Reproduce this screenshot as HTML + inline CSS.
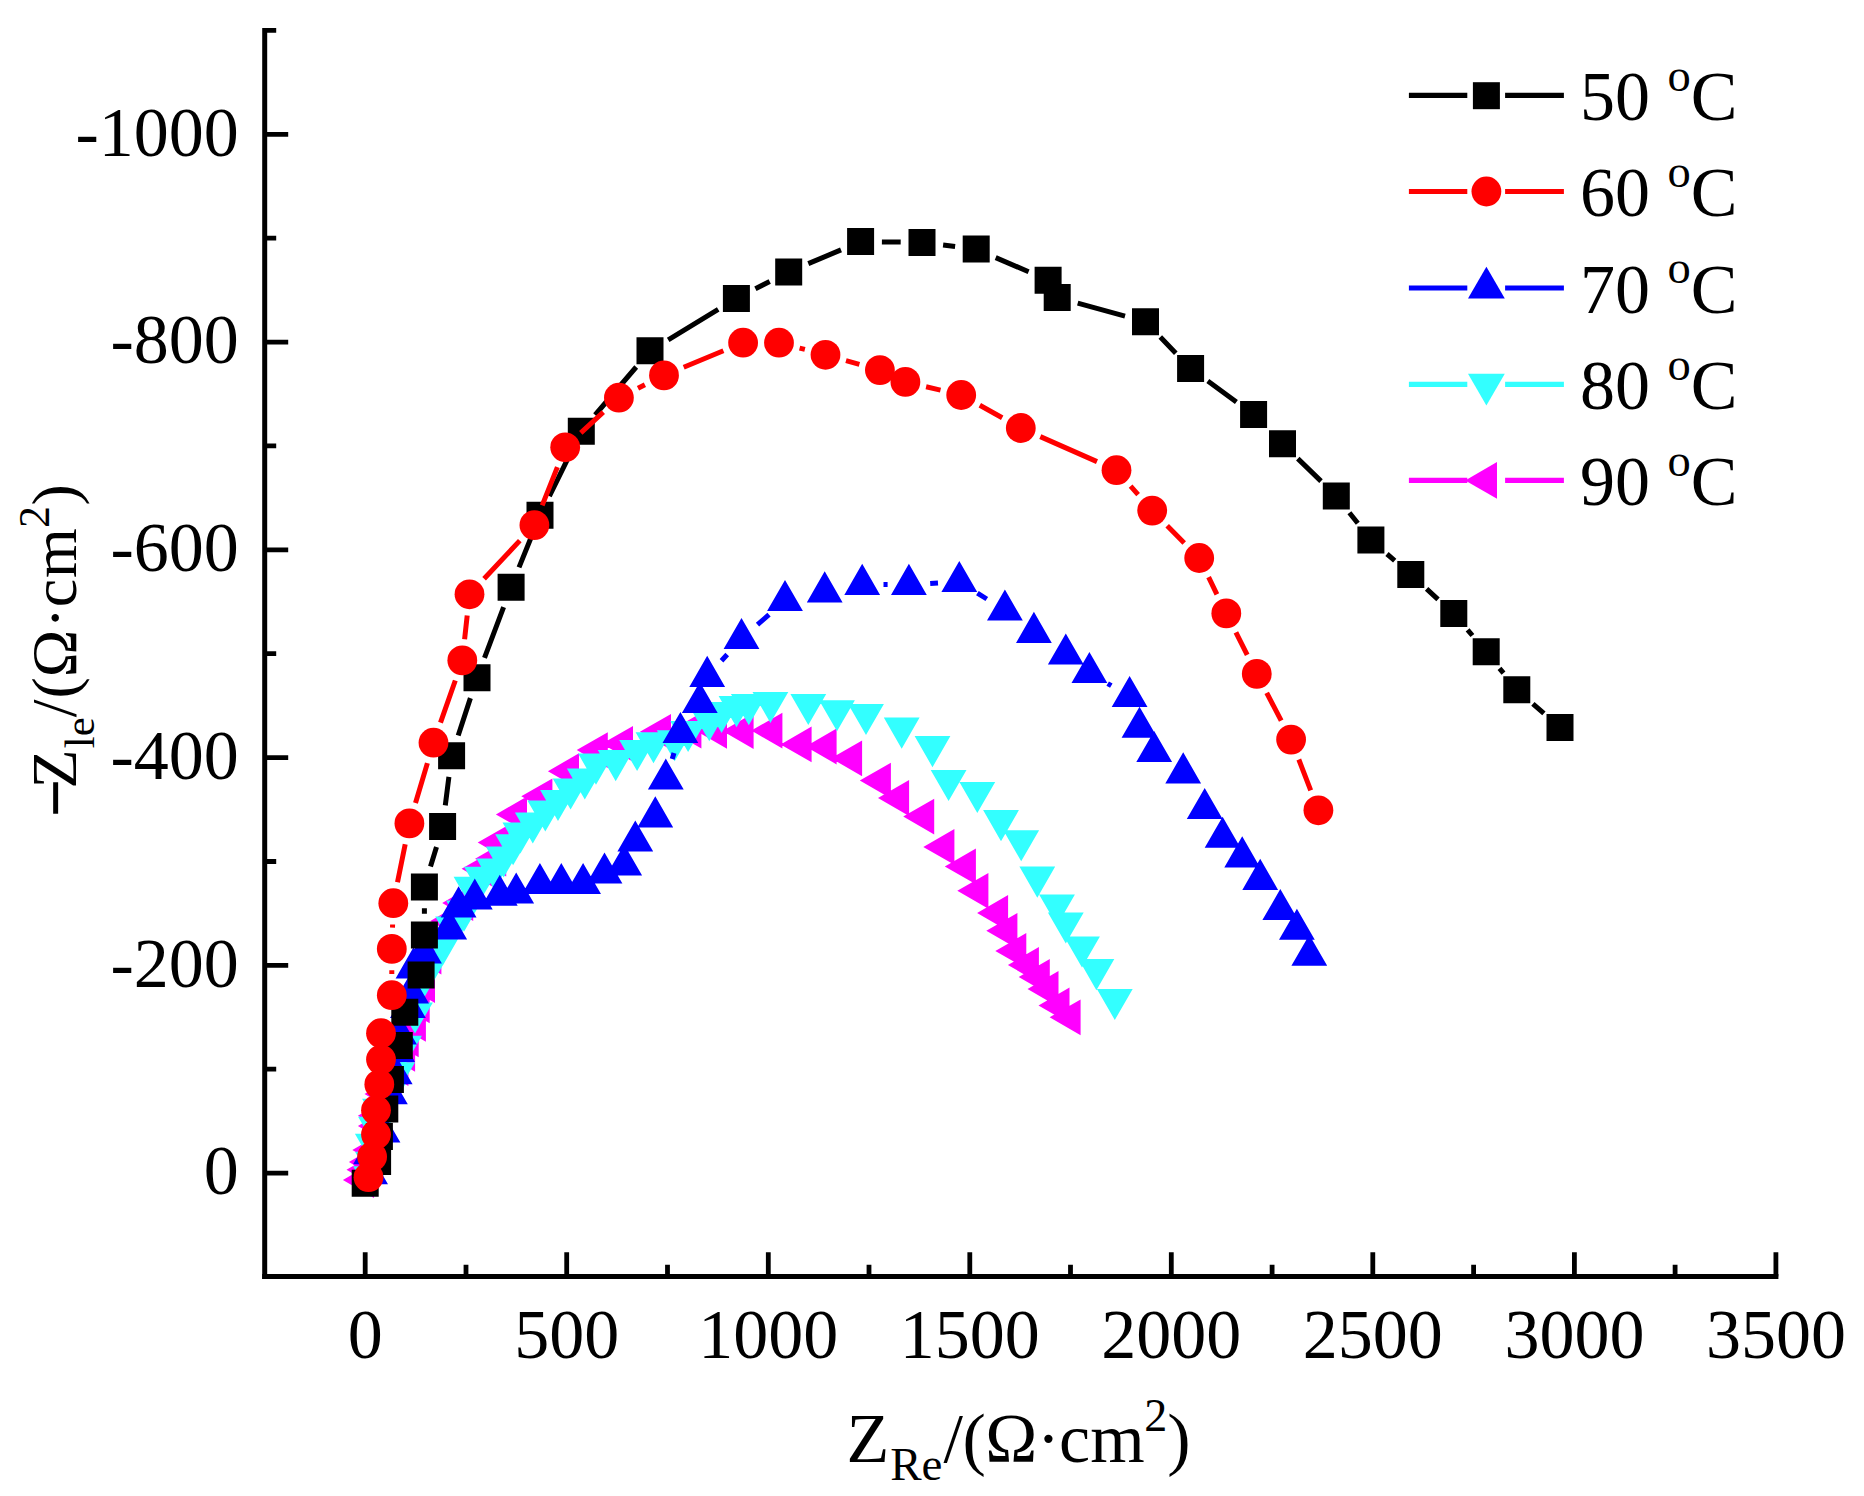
<!DOCTYPE html>
<html lang="en"><head><meta charset="utf-8"><title>Nyquist plot</title>
<style>
html,body{margin:0;padding:0;background:#fff}
body{width:1864px;height:1496px;overflow:hidden}
svg{display:block}
text{font-family:"Liberation Serif","Times New Roman",serif;fill:#000}
</style></head><body>
<svg width="1864" height="1496" viewBox="0 0 1864 1496">
<rect width="1864" height="1496" fill="#fff"/>
<g id="axes" stroke="#000" stroke-width="5" fill="none">
<path d="M264.7 28.1V1279"/>
<path d="M262.2 1276.5H1778.4"/>
<path d="M365.2 1276.5v-24.2M466 1276.5v-11.7M566.7 1276.5v-24.2M667.5 1276.5v-11.7M768.3 1276.5v-24.2M869 1276.5v-11.7M969.8 1276.5v-24.2M1070.5 1276.5v-11.7M1171.3 1276.5v-24.2M1272.1 1276.5v-11.7M1372.8 1276.5v-24.2M1473.6 1276.5v-11.7M1574.4 1276.5v-24.2M1675.1 1276.5v-11.7M1775.9 1276.5v-24.2M264.7 30.4h11.5M264.7 134.3h23.5M264.7 238.2h11.5M264.7 342.1h23.5M264.7 445.9h11.5M264.7 549.8h23.5M264.7 653.7h11.5M264.7 757.6h23.5M264.7 861.5h11.5M264.7 965.3h23.5M264.7 1069.2h11.5M264.7 1173.1h23.5" stroke-width="4.8"/>
</g>
<g id="data">

<path d="M1049.6 1017.3L1080.6 999.4L1080.6 1035.2ZM1038.5 1005.5L1069.5 987.6L1069.5 1023.4ZM1027.5 989L1058.5 971.1L1058.5 1006.9ZM1018.7 977L1049.8 959.1L1049.8 994.9ZM1007.9 965L1038.9 947.1L1038.9 982.9ZM995.3 951L1026.3 933.1L1026.3 968.9ZM986.3 930.8L1017.4 912.9L1017.4 948.7ZM977.1 913L1008.1 895.1L1008.1 930.9ZM957.3 890.8L988.4 872.9L988.4 908.7ZM944.8 866.4L975.9 848.5L975.9 884.3ZM923.3 846.9L954.4 829L954.4 864.8ZM903.2 816.6L934.2 798.7L934.2 834.5ZM878 798L909.1 780.1L909.1 815.9ZM859.8 780.6L890.9 762.7L890.9 798.5ZM831.1 758.3L862.1 740.4L862.1 776.2ZM805.6 746.5L836.6 728.6L836.6 764.4ZM780.6 744.4L811.6 726.5L811.6 762.3ZM751.3 730.6L782.4 712.7L782.4 748.5ZM722.5 731L753.6 713.1L753.6 748.9ZM695.9 730.8L727 712.9L727 748.7ZM670.3 730.7L701.4 712.8L701.4 748.6ZM639.9 731.8L671 713.9L671 749.7ZM601.9 743.8L633 725.9L633 761.7ZM576.7 750.1L607.8 732.2L607.8 768ZM547.9 771.2L579 753.3L579 789.1ZM521.3 796.3L552.4 778.4L552.4 814.2ZM495.9 814.4L527 796.5L527 832.3ZM477.7 842.6L508.8 824.7L508.8 860.5ZM475.1 858.7L506.2 840.8L506.2 876.6ZM461.6 868.8L492.7 850.9L492.7 886.7ZM442.2 903L473.2 885.1L473.2 920.9ZM430.3 921L461.4 903.1L461.4 938.9ZM410.3 956.6L441.4 938.7L441.4 974.5ZM403.9 985L435 967.1L435 1002.9ZM398.6 1005.3L429.7 987.4L429.7 1023.2ZM394.8 1023.8L425.9 1005.9L425.9 1041.7ZM387.6 1039.4L418.7 1021.5L418.7 1057.3ZM384 1053.8L415.1 1035.9L415.1 1071.7ZM377.3 1068L408.4 1050.1L408.4 1085.9ZM370.3 1082L401.4 1064.1L401.4 1099.9ZM364.5 1094L395.6 1076.1L395.6 1111.9ZM357.9 1115.7L389 1097.8L389 1133.6ZM357.9 1125.9L389 1108L389 1143.8ZM352.3 1150L383.4 1132.1L383.4 1167.9ZM348.9 1162L380 1144.1L380 1179.9ZM346.5 1169.8L377.6 1151.9L377.6 1187.7ZM342.9 1180L374 1162.1L374 1197.9Z" fill="#ff00ff"/>

<path d="M1114.8 1020L1096.9 988.9L1132.7 988.9ZM1096.4 990.2L1078.5 959.1L1114.3 959.1ZM1082 967.4L1064.1 936.4L1099.9 936.4ZM1065.8 943.5L1047.9 912.4L1083.7 912.4ZM1057 925.5L1039.1 894.4L1074.9 894.4ZM1037.3 897.7L1019.4 866.6L1055.2 866.6ZM1021.2 861.3L1003.3 830.2L1039.1 830.2ZM1001 841.2L983.1 810.1L1018.9 810.1ZM977.3 813.1L959.4 782L995.2 782ZM948.6 801L930.7 769.9L966.5 769.9ZM932.5 767.2L914.6 736.1L950.4 736.1ZM901.7 748.7L883.8 717.6L919.6 717.6ZM866 735.1L848.1 704L883.9 704ZM837 731.3L819.1 700.2L854.9 700.2ZM808.3 725.1L790.4 694L826.2 694ZM770.4 722.9L752.5 691.9L788.3 691.9ZM748.8 725.2L730.9 694.1L766.7 694.1ZM736.5 727.2L718.6 696.1L754.4 696.1ZM721.6 733.1L703.7 702L739.5 702ZM709.3 741.2L691.4 710.1L727.2 710.1ZM688.1 751.9L670.2 720.9L706 720.9ZM674.7 761.3L656.8 730.2L692.6 730.2ZM653.5 763.3L635.6 732.2L671.4 732.2ZM637.1 771.1L619.2 740L655 740ZM615.7 781.2L597.8 750.1L633.6 750.1ZM596 784.7L578.1 753.6L613.9 753.6ZM584.8 799.5L566.9 768.4L602.7 768.4ZM570.6 809.4L552.7 778.4L588.5 778.4ZM558 821.1L540.1 790L575.9 790ZM545.3 831.4L527.4 800.4L563.2 800.4ZM532.8 843.5L514.9 812.4L550.7 812.4ZM520.4 853.5L502.5 822.4L538.3 822.4ZM513.1 865.3L495.2 834.2L531 834.2ZM503.7 877.4L485.8 846.4L521.6 846.4ZM494.3 889.7L476.4 858.6L512.2 858.6ZM481.9 897.8L464 866.8L499.8 866.8ZM471.5 907.8L453.6 876.8L489.4 876.8ZM464 931.7L446.1 900.6L481.9 900.6ZM453.1 947.4L435.2 916.4L471 916.4ZM443 965.2L425.1 934.1L460.9 934.1ZM432.6 983L414.7 951.9L450.5 951.9ZM421.8 1001.7L403.9 970.6L439.7 970.6ZM415 1033.4L397.1 1002.4L432.9 1002.4ZM404 1066.7L386.1 1035.7L421.9 1035.7ZM397.2 1093.2L379.3 1062.2L415.1 1062.2ZM390 1110.7L372.1 1079.7L407.9 1079.7ZM380 1129.7L362.1 1098.7L397.9 1098.7ZM376 1147.7L358.1 1116.7L393.9 1116.7ZM372.8 1164.7L354.9 1133.7L390.7 1133.7ZM372.9 1182.7L355 1151.7L390.8 1151.7ZM371 1197.3L353.1 1166.2L388.9 1166.2Z" fill="#33ffff"/>
<path d="M1111.3 685.7L1107.7 683.6M986.8 599L977.4 593.1M938 582.9L930.2 583.4M887.6 584.5L883.5 584.5M769 614.6L757.5 624.7M727.2 654.5L721.5 660.7M674 753L672.2 759" stroke="#0000ff" stroke-width="5" fill="none"/>
<path d="M1309.3 934.7L1291.4 965.8L1327.2 965.8ZM1296.9 908.7L1279 939.8L1314.8 939.8ZM1280.3 889.1L1262.4 920.1L1298.2 920.1ZM1260.2 858.8L1242.3 889.9L1278.1 889.9ZM1242.2 836.3L1224.3 867.4L1260.1 867.4ZM1222.6 816.7L1204.7 847.8L1240.5 847.8ZM1204.7 788L1186.8 819.1L1222.6 819.1ZM1183.2 752.3L1165.3 783.4L1201.1 783.4ZM1154.2 730.9L1136.3 762L1172.1 762ZM1139.5 706.7L1121.6 737.8L1157.4 737.8ZM1129.6 675.9L1111.7 707L1147.5 707ZM1089.4 652L1071.5 683.1L1107.3 683.1ZM1065.8 633.4L1047.9 664.5L1083.7 664.5ZM1033.9 611.8L1016 642.9L1051.8 642.9ZM1004.9 589.6L987 620.6L1022.8 620.6ZM959.3 561.1L941.4 592.1L977.2 592.1ZM908.9 563.8L891 594.9L926.8 594.9ZM862.2 563.8L844.3 594.9L880.1 594.9ZM824.7 571.3L806.8 602.4L842.6 602.4ZM785 579.9L767.1 611L802.9 611ZM741.5 618L723.6 649.1L759.4 649.1ZM707.2 655.8L689.3 686.9L725.1 686.9ZM699.8 682L681.9 713.1L717.7 713.1ZM680.4 712L662.5 743.1L698.3 743.1ZM665.8 758.6L647.9 789.6L683.7 789.6ZM655.3 796.3L637.4 827.4L673.2 827.4ZM635.3 820.4L617.4 851.5L653.2 851.5ZM624.2 844.4L606.3 875.5L642.1 875.5ZM604.5 852.6L586.6 883.6L622.4 883.6ZM583.1 862.9L565.2 894L601 894ZM561.3 862.9L543.4 894L579.2 894ZM539.9 862.9L522 894L557.8 894ZM516.2 872.5L498.3 903.6L534.1 903.6ZM499.8 874.7L481.9 905.8L517.7 905.8ZM474.8 878.6L456.9 909.6L492.7 909.6ZM458.6 886.3L440.7 917.4L476.5 917.4ZM449.2 908.4L431.3 939.5L467.1 939.5ZM424 932.6L406.1 963.6L441.9 963.6ZM413.5 947.3L395.6 978.4L431.4 978.4ZM411.1 972.3L393.2 1003.4L429 1003.4ZM407.9 986.8L390 1017.9L425.8 1017.9ZM399 1013.6L381.1 1044.6L416.9 1044.6ZM397.1 1031.1L379.2 1062.1L415 1062.1ZM394.7 1053.3L376.8 1084.3L412.6 1084.3ZM389.9 1073.2L372 1104.2L407.8 1104.2ZM382.5 1111.5L364.6 1142.5L400.4 1142.5ZM371 1133.3L353.1 1164.3L388.9 1164.3ZM370.1 1153.2L352.2 1184.2L388 1184.2Z" fill="#0000ff"/>
<path d="M424.4 913.7L424.4 908.3M430.5 866.6L436.5 846.9M445.3 805.4L448.9 776.9M458.2 735.5L470.4 698.1M484.5 657.9L503.6 607.1M519 567.4L532.1 535M549.4 496.1L571.9 450.3M595.1 415L636.2 367M668.2 339.8L718.2 309.4M755.4 288.8L769.7 281.5M808.3 263.6L841 249.9M881.9 241.9L900.7 242.1M943.1 245L955.1 246.5M995.7 257.6L1028.6 271.7M1077.7 303.1L1125 316.1M1160.3 337.1L1175.8 353.2M1207.8 381.1L1236.4 402M1297.8 458.6L1321 481.1M1349.4 512.7L1357.8 523.3M1387 554L1394.7 560.6M1426.6 588.8L1438 599.3M1467.6 629.8L1472.4 635.5M1499.5 668.3L1503.5 673.2M1532.9 703.8L1543.9 713.4" stroke="#000000" stroke-width="5" fill="none"/>
<path d="M351.7 1169.8h27v27h-27ZM364.1 1148h27v27h-27ZM365.9 1122.9h27v27h-27ZM371.3 1095.5h27v27h-27ZM376.9 1066.1h27v27h-27ZM385.8 1031.9h27v27h-27ZM391.3 998.8h27v27h-27ZM407.6 961.5h27v27h-27ZM410.9 921.5h27v27h-27ZM410.9 873.5h27v27h-27ZM429.1 813h27v27h-27ZM438.1 742.3h27v27h-27ZM463.5 664.3h27v27h-27ZM497.6 573.7h27v27h-27ZM526.5 501.7h27v27h-27ZM567.8 417.7h27v27h-27ZM636.5 337.3h27v27h-27ZM722.9 284.9h27v27h-27ZM775.2 258.4h27v27h-27ZM847.1 228.1h27v27h-27ZM908.5 228.9h27v27h-27ZM962.7 235.6h27v27h-27ZM1034.6 266.7h27v27h-27ZM1043.7 283.9h27v27h-27ZM1132 308.3h27v27h-27ZM1177.1 355h27v27h-27ZM1240.1 401.1h27v27h-27ZM1269 430.3h27v27h-27ZM1322.8 482.4h27v27h-27ZM1357.4 526.6h27v27h-27ZM1397.3 561h27v27h-27ZM1440.3 600.1h27v27h-27ZM1472.7 638.2h27v27h-27ZM1503.3 676.3h27v27h-27ZM1546.5 713.9h27v27h-27Z" fill="#000000"/>
<path d="M391.8 973.9L391.8 970.2M392.5 927.6L392.6 924.5M397.5 882.3L405.2 844.3M415.5 803L427.4 763.1M440.5 722.6L455.3 680.5M464.6 639.2L467.2 615.5M484.1 578.8L519.8 540.6M542.2 505.3L557.4 467.1M580.8 432.8L603.3 412.2M638 388.3L644.9 384.8M683.7 367.3L723.4 350.8M799.6 348.1L804.9 349.4M846 360.6L859.4 364.3M926.1 386.8L940.5 390.1M979.8 405.3L1002.2 417.7M1040.3 436.6L1097 461.6M1130.6 486.2L1138.1 494.6M1167.2 525.7L1184.2 542.9M1208.6 577.1L1216.9 594.3M1235.9 632.4L1247.2 654.9M1266.7 692.8L1281.2 720.7M1298.8 759.5L1310.7 790.4" stroke="#ff0000" stroke-width="5" fill="none"/>
<g fill="#ff0000"><circle cx="368.5" cy="1177.2" r="14.9"/><circle cx="372.1" cy="1156.7" r="14.9"/><circle cx="376" cy="1134.5" r="14.9"/><circle cx="376" cy="1110.2" r="14.9"/><circle cx="379.3" cy="1084.4" r="14.9"/><circle cx="381" cy="1059.6" r="14.9"/><circle cx="381" cy="1033.2" r="14.9"/><circle cx="391.8" cy="995.2" r="14.9"/><circle cx="391.8" cy="948.9" r="14.9"/><circle cx="393.3" cy="903.2" r="14.9"/><circle cx="409.4" cy="823.4" r="14.9"/><circle cx="433.5" cy="742.7" r="14.9"/><circle cx="462.3" cy="660.4" r="14.9"/><circle cx="469.5" cy="594.3" r="14.9"/><circle cx="534.4" cy="525.1" r="14.9"/><circle cx="565.2" cy="447.3" r="14.9"/><circle cx="618.9" cy="397.7" r="14.9"/><circle cx="664" cy="375.4" r="14.9"/><circle cx="743.1" cy="342.7" r="14.9"/><circle cx="779" cy="342.7" r="14.9"/><circle cx="825.5" cy="354.8" r="14.9"/><circle cx="879.9" cy="370.1" r="14.9"/><circle cx="905.4" cy="381.9" r="14.9"/><circle cx="961.2" cy="395" r="14.9"/><circle cx="1020.8" cy="428" r="14.9"/><circle cx="1116.5" cy="470.2" r="14.9"/><circle cx="1152.2" cy="510.6" r="14.9"/><circle cx="1199.2" cy="558" r="14.9"/><circle cx="1226.3" cy="613.4" r="14.9"/><circle cx="1256.8" cy="673.9" r="14.9"/><circle cx="1291.1" cy="739.6" r="14.9"/><circle cx="1318.4" cy="810.3" r="14.9"/></g>
</g>
<g id="ticklabels" font-size="70">
<text x="365.2" y="1357.8" text-anchor="middle">0</text>
<text x="566.7" y="1357.8" text-anchor="middle">500</text>
<text x="768.3" y="1357.8" text-anchor="middle">1000</text>
<text x="969.8" y="1357.8" text-anchor="middle">1500</text>
<text x="1171.3" y="1357.8" text-anchor="middle">2000</text>
<text x="1372.8" y="1357.8" text-anchor="middle">2500</text>
<text x="1574.4" y="1357.8" text-anchor="middle">3000</text>
<text x="1775.9" y="1357.8" text-anchor="middle">3500</text>
<text x="238.8" y="155.6" text-anchor="end">-1000</text>
<text x="238.8" y="363.4" text-anchor="end">-800</text>
<text x="238.8" y="571.1" text-anchor="end">-600</text>
<text x="238.8" y="778.9" text-anchor="end">-400</text>
<text x="238.8" y="986.6" text-anchor="end">-200</text>
<text x="238.8" y="1194.4" text-anchor="end">0</text>
</g>
<g id="legend">
<path d="M1408.9 95.3H1467.3M1505.1 95.3H1563.9" stroke="#000000" stroke-width="5.2"/>
<path d="M1472.9 82.2h27v27h-27Z" fill="#000000"/>
<text x="1580" y="119.9" font-size="70">50 <tspan font-size="46.5" dy="-29.3">o</tspan><tspan dy="29.3">C</tspan></text>
<path d="M1408.9 191.5H1467.3M1505.1 191.5H1563.9" stroke="#ff0000" stroke-width="5.2"/>
<g fill="#ff0000"><circle cx="1486.4" cy="191.5" r="14.9"/></g>
<text x="1580" y="216.1" font-size="70">60 <tspan font-size="46.5" dy="-29.3">o</tspan><tspan dy="29.3">C</tspan></text>
<path d="M1408.9 288H1467.3M1505.1 288H1563.9" stroke="#0000ff" stroke-width="5.2"/>
<path d="M1486.4 266.8L1468 298.6L1504.8 298.6Z" fill="#0000ff"/>
<text x="1580" y="312.6" font-size="70">70 <tspan font-size="46.5" dy="-29.3">o</tspan><tspan dy="29.3">C</tspan></text>
<path d="M1408.9 384.3H1467.3M1505.1 384.3H1563.9" stroke="#33ffff" stroke-width="5.2"/>
<path d="M1486.4 405.5L1468 373.7L1504.8 373.7Z" fill="#33ffff"/>
<text x="1580" y="408.9" font-size="70">80 <tspan font-size="46.5" dy="-29.3">o</tspan><tspan dy="29.3">C</tspan></text>
<path d="M1408.9 480.4H1467.3M1505.1 480.4H1563.9" stroke="#ff00ff" stroke-width="5.2"/>
<path d="M1465.2 480.4L1497 462L1497 498.8Z" fill="#ff00ff"/>
<text x="1580" y="505" font-size="70">90 <tspan font-size="46.5" dy="-29.3">o</tspan><tspan dy="29.3">C</tspan></text>
</g>
<text id="xtitle" x="846.5" y="1461.5" font-size="70">Z<tspan font-size="47" dy="18.9" dx="1">Re</tspan><tspan dy="-18.9" dx="1">/</tspan><tspan dx="-0.5">(</tspan><tspan dx="-0.5">Ω</tspan><tspan dx="-0.5">·</tspan><tspan dx="-1">cm</tspan><tspan font-size="46" dy="-30.7" dx="-0.4">2</tspan><tspan dy="30.7">)</tspan></text>
<text id="ytitle" transform="translate(75.9,816) rotate(-90)" font-size="64"><tspan stroke="#000" stroke-width="1.8" dy="1.5">−</tspan><tspan dx="-8.5" dy="-1.5">Z</tspan><tspan font-size="43" dy="17.7" dx="1">le</tspan><tspan dy="-17.7">/</tspan><tspan dx="1">(Ω</tspan><tspan dx="1">·c</tspan><tspan dx="1">m</tspan><tspan font-size="44" dy="-27">2</tspan><tspan dy="27" dx="0.5">)</tspan></text>
</svg>
</body></html>
